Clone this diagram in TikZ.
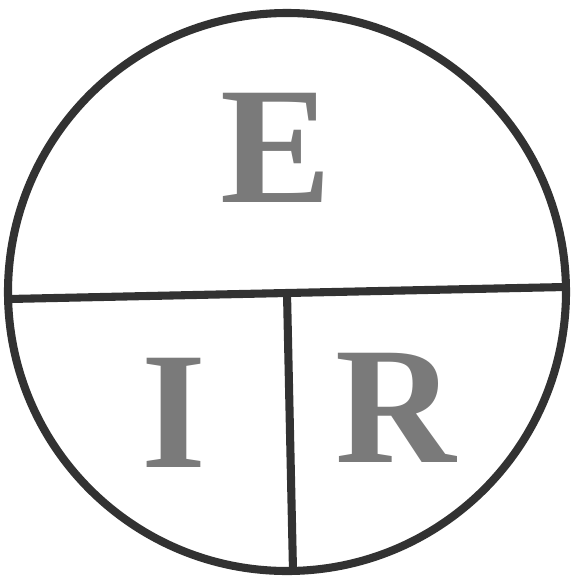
\documentclass[tikz,border=0pt]{standalone}
\usepackage{fontspec}
\setmainfont{Liberation Serif}
\usetikzlibrary{calc}
\definecolor{ringgray}{RGB}{50,50,50}
\definecolor{lettergray}{RGB}{122,122,122}
\tikzset{
  ring/.style={draw=ringgray,line width=4.6pt},
  bigletter/.style={inner sep=0pt,text=lettergray,font=\fontsize{95}{95}\selectfont\bfseries}
}
\begin{document}
\begin{tikzpicture}[x=0.02cm,y=-0.02cm]
\useasboundingbox (0,0) rectangle (571,579);
\coordinate (c) at (287,292);
\draw[ring] (c) circle[radius=279*0.02cm];
% the two dividing lines
\coordinate (west) at (9,299); \coordinate (east) at (565,287);
\coordinate (mid) at ($(west)!0.5!(east)$); \coordinate (south) at (293,571);
\draw[ring] (west) -- (east);
\draw[ring] (mid) -- (south);
\node[bigletter] (e) at (276,148) {E};
\node[bigletter] (i) at (174,413) {I};
\node[bigletter] (r) at (396,408) {R};
\end{tikzpicture}
\end{document}
